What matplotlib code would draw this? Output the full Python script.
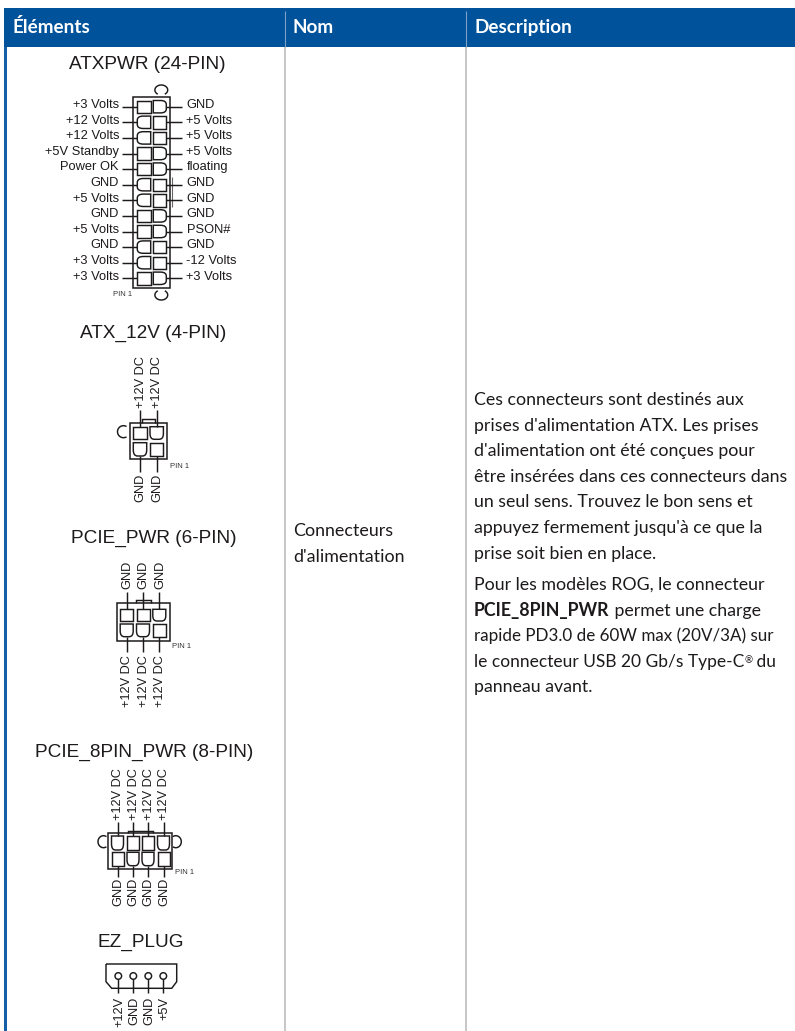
import matplotlib
matplotlib.use("Agg")
import matplotlib.pyplot as plt
from matplotlib.path import Path
from matplotlib.patches import PathPatch, Rectangle, Arc

headers = ["Éléments", "Nom", "Description"]
name_lines = ["Connecteurs", "d'alimentation"]
desc_para1 = ["Ces connecteurs sont destinés aux",
              "prises d'alimentation ATX. Les prises",
              "d'alimentation ont été conçues pour",
              "être insérées dans ces connecteurs dans",
              "un seul sens. Trouvez le bon sens et",
              "appuyez fermement jusqu'à ce que la",
              "prise soit bien en place."]
desc_bold = "PCIE_8PIN_PWR"
desc_para2 = ["Pour les modèles ROG, le connecteur",
              " permet une charge",
              "rapide PD3.0 de 60W max (20V/3A) sur",
              "le connecteur USB 20 Gb/s Type-C",
              "panneau avant."]
desc_reg = "®"
desc_tail = " du"

atx_left = ["+3 Volts", "+12 Volts", "+12 Volts", "+5V Standby", "Power OK", "GND",
            "+5 Volts", "GND", "+5 Volts", "GND", "+3 Volts", "+3 Volts"]
atx_right = ["GND", "+5 Volts", "+5 Volts", "+5 Volts", "floating", "GND",
             "GND", "GND", "PSON#", "GND", "-12 Volts", "+3 Volts"]
atx_left_pins = "SRRSSRRSSRRS"
atx_right_pins = "RSSRRSSRRSSR"

p4_top = ["+12V DC", "+12V DC"]
p4_bot = ["GND", "GND"]
p4_pins = ["SR", "RS"]
p6_top = ["GND", "GND", "GND"]
p6_bot = ["+12V DC", "+12V DC", "+12V DC"]
p6_pins = ["SSR", "RRS"]
p8_top = ["+12V DC", "+12V DC", "+12V DC", "+12V DC"]
p8_bot = ["GND", "GND", "GND", "GND"]
p8_pins = ["RSSR", "SRRS"]
ez_labels = ["+12V", "GND", "GND", "+5V"]

BLUE = "#00539b"
INK = "#1d1a1b"
SEP = "#b4b6b8"
ARIAL = "Liberation Sans"
BODY = "Lato"
BODY_SIZE = 12.75
LW = 1.05

fig = plt.figure(figsize=(7.95, 10.31), dpi=100, facecolor="white")
ax = fig.add_axes([0, 0, 1, 1])
ax.set_xlim(0, 795)
ax.set_ylim(1031, 0)
ax.axis("off")


def line(xs, ys, color=INK, lw=LW):
    ax.plot(xs, ys, color=color, lw=lw, solid_capstyle="butt", solid_joinstyle="miter")


def box(x0, y0, x1, y1, lw=LW):
    ax.add_patch(Rectangle((x0, y0), x1 - x0, y1 - y0, fill=False, ec=INK, lw=lw))


def pin(x0, y0, x1, y1, kind, side="bottom"):
    if kind == "S":
        box(x0, y0, x1, y1)
        return
    w, h = x1 - x0, y1 - y0
    # unit shape: flat at v=0, rounded at v=1
    unit = [((0, 0), Path.MOVETO), ((1, 0), Path.LINETO), ((1, .55), Path.LINETO),
            ((1, 1), Path.CURVE3), ((.68, 1), Path.CURVE3), ((.32, 1), Path.LINETO),
            ((0, 1), Path.CURVE3), ((0, .55), Path.CURVE3), ((0, 0), Path.CLOSEPOLY)]
    pts = []
    for (u, v), _ in unit:
        if side == "bottom":
            pts.append((x0 + u * w, y0 + v * h))
        elif side == "left":
            pts.append((x1 - v * w, y0 + u * h))
        else:
            pts.append((x0 + v * w, y0 + u * h))
    ax.add_patch(PathPatch(Path(pts, [c for _, c in unit]), fill=False, ec=INK, lw=LW))


def title(s, x, y):
    ax.text(x, y, s, family=ARIAL, fontsize=13.65, color=INK, ha="center", va="baseline")


def small(s, x, y):
    ax.text(x, y, s, family=ARIAL, fontsize=5.5, color="#333333", ha="left", va="center")


def vlabel(s, x, y, anchor):
    ax.text(x + 0.8, y, s, family=ARIAL, fontsize=9.2, color=INK, rotation=90, ha="center",
            va=anchor, rotation_mode="default")


def loop(cx, cy, rx, ry, t1, t2):
    ax.add_patch(Arc((cx, cy), 2 * rx, 2 * ry, theta1=t1, theta2=t2, ec=INK, lw=LW))


def body(x, y, s, size=BODY_SIZE, weight="normal"):
    t = ax.text(x, y, s, family=BODY, weight=weight, fontsize=size, color=INK, va="baseline")
    fig.canvas.draw()
    return t.get_window_extent().transformed(ax.transData.inverted()).x1


# ---- table frame ----
ax.add_patch(Rectangle((4, 8), 791, 39, fc=BLUE, ec="none"))
ax.add_patch(Rectangle((4, 47), 2.5, 984, fc="#1460a8", ec="none"))
line([285.3, 285.3], [11, 47], "#7f9fc6", 0.8)
line([466.3, 466.3], [11, 47], "#7f9fc6", 0.8)
line([285.3, 285.3], [47, 1031], SEP, 1.1)
line([466.3, 466.3], [47, 1031], SEP, 1.1)
for s, x in zip(headers, [13, 293, 475]):
    ax.text(x, 33, s, family=BODY, weight="bold", fontsize=13.6, color="white", ha="left", va="baseline")

# ---- body text ----
for i, s in enumerate(name_lines):
    body(293, 536 + 26 * i, s, 12.85)
for i, s in enumerate(desc_para1):
    body(474, 405 + 25.6 * i, s)
for i, s in enumerate(desc_para2):
    y = 590 + 25.6 * i
    if i == 1:
        x1 = body(474, y, desc_bold, weight="bold")
        body(x1, y, s)
    elif i == 2:
        body(474, y, s, 12.25)
    elif i == 3:
        x1 = body(474, y, s, 12.5)
        x2 = body(x1, y - 4, desc_reg, 7)
        body(x2, y, desc_tail, 12.5)
    else:
        body(474, y, s)

# ---- ATX 24 pin ----
title("ATXPWR (24-PIN)", 147, 69)
box(133.3, 96.7, 170, 288.3, 1.1)
loop(161.3, 90, 6.4, 5, 130, 50 + 360)
loop(161.3, 295, 6.4, 5, -50, 230)
line([171.7, 171.7], [176.7, 207.3], "#666666", 0.8)
for i in range(12):
    yc = 106.7 + 15.6 * i
    pin(137.3, yc - 6.2, 150.7, yc + 6.2, atx_left_pins[i], "left")
    pin(153.3, yc - 6.2, 166.3, yc + 6.2, atx_right_pins[i], "right")
    line([122.3, 137.3], [yc, yc])
    line([166.3, 181.7], [yc, yc])
    ax.text(119, yc + 1.2, atx_left[i], family=ARIAL, fontsize=9.26, color=INK, ha="right", va="baseline")
    ax.text(186.5, yc + 1.2, atx_right[i], family=ARIAL, fontsize=9.26, color=INK, ha="left", va="baseline")
small("PIN 1", 112.7, 295)

# ---- ATX_12V 4 pin ----
title("ATX_12V (4-PIN)", 153.5, 338)
box(130, 422.7, 166.7, 459.3, 1.1)
line([141.7, 141.7, 155, 155], [422.7, 418.7, 418.7, 422.7])
loop(123.5, 431.7, 6, 6, 60, 300)
for j, cx in enumerate([140, 156.7]):
    pin(cx - 6.7, 426.7, cx + 6.7, 439.3, p4_pins[0][j])
    pin(cx - 6.7, 442.7, cx + 6.7, 456, p4_pins[1][j])
    line([cx, cx], [410, 426.7])
    line([cx, cx], [456, 471.7])
    vlabel(p4_top[j], cx, 408, "bottom")
    vlabel(p4_bot[j], cx, 474, "top")
small("PIN 1", 170, 466)

# ---- PCIE 6 pin ----
title("PCIE_PWR (6-PIN)", 153.5, 542.7)
box(116.7, 603.3, 170, 640.7, 1.1)
line([135.7, 135.7, 150.7, 150.7], [603.3, 600, 600, 603.3])
for j, cx in enumerate([126.7, 143, 159.3]):
    pin(cx - 6.5, 609.3, cx + 6.5, 621, p6_pins[0][j])
    pin(cx - 6.5, 624, cx + 6.5, 636.7, p6_pins[1][j])
    line([cx, cx], [591.7, 609.3])
    line([cx, cx], [636.7, 651.7])
    vlabel(p6_top[j], cx, 589, "bottom")
    vlabel(p6_bot[j], cx, 655, "top")
small("PIN 1", 171.7, 646.7)

# ---- PCIE 8 pin ----
title("PCIE_8PIN_PWR (8-PIN)", 144.5, 756.7)
box(107.7, 833.3, 171.7, 869, 1.1)
line([128.3, 128.3, 152.7, 152.7], [833.3, 831, 831, 833.3])
loop(103.5, 841.7, 5.5, 6, 60, 300)
loop(175.8, 841.7, 5.5, 6, -120, 120)
for j, cx in enumerate([117.5, 133, 148, 163.5]):
    pin(cx - 6, 836, cx + 6, 850, p8_pins[0][j])
    pin(cx - 6, 852.3, cx + 6, 865.7, p8_pins[1][j])
    line([cx, cx], [822.3, 836])
    line([cx, cx], [865.7, 876.7])
    vlabel(p8_top[j], cx, 820.5, "bottom")
    vlabel(p8_bot[j], cx, 878, "top")
small("PIN 1", 175, 872)

# ---- EZ plug ----
title("EZ_PLUG", 141, 947.3)
ax.add_patch(PathPatch(Path([(106, 964), (176.7, 964), (176.7, 981.7), (171.7, 988.3),
                             (111.7, 988.3), (106, 981.7), (106, 964)]),
                       fill=False, ec=INK, lw=LW))
for j, cx in enumerate([118.3, 133.3, 148.3, 163.3]):
    ax.add_patch(plt.Circle((cx, 976), 3.3, fill=False, ec=INK, lw=LW))
    line([cx, cx], [979.3, 993.3])
    vlabel(ez_labels[j], cx, 997, "top")

fig.savefig("out.png", dpi=100, facecolor="white")
